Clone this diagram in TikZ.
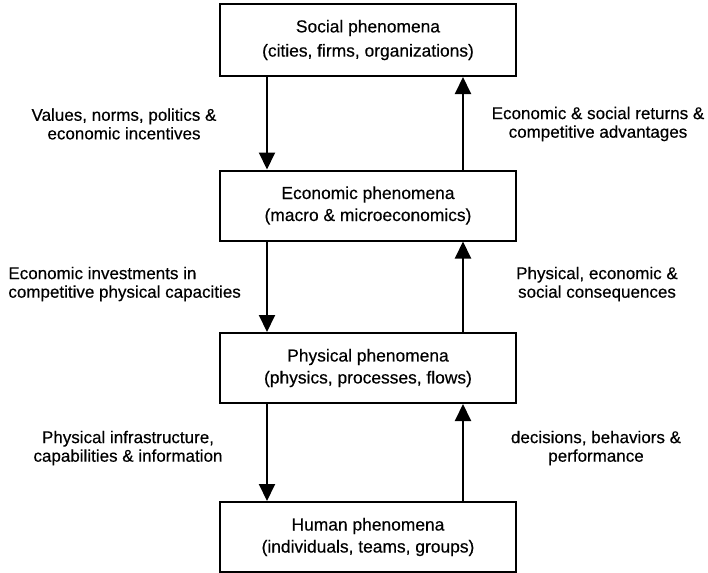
\documentclass[tikz,border=0pt]{standalone}
\usepackage{fontspec}
\setmainfont{Liberation Sans}[FakeBold=0.4]
\usetikzlibrary{arrows.meta}
\begin{document}
\begin{tikzpicture}[x=0.5pt,y=-0.5pt,
  phenbox/.style={draw=black, line width=1pt, minimum width=148pt, minimum height=35pt,
    inner sep=0pt, align=center, font=\fontsize{8.7}{11}\selectfont},
  flowlabel/.style={inner sep=0pt, align=center, font=\fontsize{8.5}{9.3}\selectfont},
  flow/.style={line width=1pt, -{Triangle[width=8pt,length=8.5pt]}}]
  \useasboundingbox (0,0) rectangle (708,573);

  % the four levels
  \node[phenbox, minimum height=36pt] (soc) at (368,40) {\raisebox{-1.5pt}{\shortstack{Social phenomena\\[1pt](cities, firms, organizations)}}};
  \node[phenbox] (eco) at (368,205.5) {Economic phenomena\\(macro \& microeconomics)};
  \node[phenbox] (phy) at (368,368) {Physical phenomena\\(physics, processes, flows)};
  \node[phenbox] (hum) at (368,537) {Human phenomena\\(individuals, teams, groups)};

  % downward influences (left) and upward feedback (right)
  \draw[flow] ([xshift=-50.5pt]soc.south) -- ([xshift=-50.5pt]eco.north);
  \draw[flow] ([xshift=47.5pt]eco.north) -- ([xshift=47.5pt]soc.south);
  \draw[flow] ([xshift=-50.5pt]eco.south) -- ([xshift=-50.5pt]phy.north);
  \draw[flow] ([xshift=47.5pt]phy.north) -- ([xshift=47.5pt]eco.south);
  \draw[flow] ([xshift=-50.5pt]phy.south) -- ([xshift=-50.5pt]hum.north);
  \draw[flow] ([xshift=47.5pt]hum.north) -- ([xshift=47.5pt]phy.south);

  % flow labels
  \node[flowlabel] (l1) at (124,124) {Values, norms, politics \&\\economic incentives};
  \node[flowlabel] (r1) at (598,124) {Economic \& social returns \&\\competitive advantages};
  \node[flowlabel, align=left, anchor=west] (l2) at (8,284) {Economic investments in\\competitive physical capacities};
  \node[flowlabel] (r2) at (597,284) {Physical, economic \&\\social consequences};
  \node[flowlabel] (l3) at (128,448) {Physical infrastructure,\\capabilities \& information};
  \node[flowlabel] (r3) at (596,448) {decisions, behaviors \&\\performance};
\end{tikzpicture}
\end{document}
